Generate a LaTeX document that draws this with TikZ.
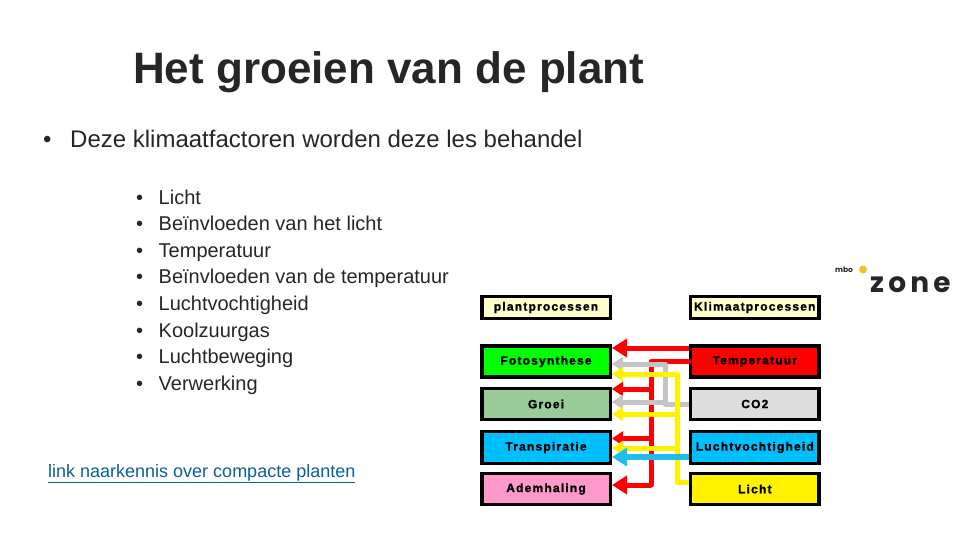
\documentclass[tikz,border=0pt]{standalone}
\usepackage{fontspec}
\setmainfont{Liberation Sans}
\newfontfamily\boxfont[LetterSpace=10,BoldFeatures={FakeBold=1.5,LetterSpace=10}]{Liberation Sans}
\newfontfamily\zonefont[LetterSpace=15]{Poppins}
\newfontfamily\mbofont{Poppins}
\usetikzlibrary{arrows.meta}
\definecolor{linkblue}{HTML}{0B5E9E}
\definecolor{ltyellow}{HTML}{FFFFCC}
\definecolor{grgreen}{HTML}{99CC99}
\definecolor{skyb}{HTML}{00BFFF}
\definecolor{pinkb}{HTML}{FF99CC}
\definecolor{greyb}{HTML}{DDDDDD}
\definecolor{arrgrey}{HTML}{C4C4C4}
\definecolor{arrblue}{HTML}{22BBEE}
\definecolor{txtcol}{HTML}{262626}
\definecolor{dotcol}{HTML}{F0C428}
\tikzset{
  x=1pt,y=-1pt,
  txt/.style={anchor=base west,inner sep=0pt,text=txtcol},
  head/.style={txt,font=\bfseries\fontsize{44}{48}\selectfont},
  lvl1/.style={txt,font=\fontsize{24}{28}\selectfont},
  lvl2/.style={txt,font=\fontsize{20}{24}\selectfont},
  bbox/.style={draw=black,line width=3.5pt,minimum width=128.5pt,inner sep=0pt,font=\boxfont\bfseries\fontsize{12}{13}\selectfont,text=black},
  big/.style={-{Triangle[length=15pt,width=18pt]}},
  small/.style={-{Triangle[length=11pt,width=14pt]}},
  conn/.style={line width=5pt},
}
\begin{document}
\begin{tikzpicture}
\useasboundingbox (0,0) rectangle (960,540);
\node[head] (title) at (133,84) {Het groeien van de plant};
\node[lvl1] (b0) at (43,147.5) {•};
\node[lvl1] (lead) at (70,147.5) {Deze klimaatfactoren worden deze les behandel};
\foreach \n/\y/\t in {1/204.5/Licht,2/230/Beïnvloeden van het licht,3/257/Temperatuur,4/283/Beïnvloeden van de temperatuur,5/310/Luchtvochtigheid,6/337/Koolzuurgas,7/363/Luchtbeweging,8/390/Verwerking}{
  \node[lvl2] (d\n) at (136,\y) {•};
  \node[lvl2] (i\n) at (158.5,\y) {\t};
}
\node[anchor=base west,inner sep=0pt,text=linkblue,font=\fontsize{18}{20}\selectfont] (link) at (48,477) {\underline{link naarkennis over compacte planten}};

\node[bbox,fill=ltyellow,minimum height=22pt,text width=124pt,align=center] (pp) at (546,307.5) {plantprocessen};
\node[bbox,fill=ltyellow,minimum height=22pt,text width=124pt,align=center] (kp) at (754.8,307.5) {Klimaatprocessen};
\node[bbox,fill=green,minimum height=31pt] (foto) at (546,361.5) {Fotosynthese};
\node[bbox,fill=grgreen,minimum height=31pt] (groei) at (546,404) {Groei};
\node[bbox,fill=skyb,minimum height=32pt] (trans) at (546,447.5) {Transpiratie};
\node[bbox,fill=pinkb,minimum height=31pt] (adem) at (546,489) {Ademhaling};
\node[bbox,fill=red,minimum height=31pt] (temp) at (754.8,361.5) {Temperatuur};
\node[bbox,fill=greyb,minimum height=31pt] (co2) at (754.8,404) {CO2};
\node[bbox,fill=skyb,minimum height=32pt] (lucht) at (754.8,447.5) {Luchtvochtigheid};
\node[bbox,fill=yellow,minimum height=31pt] (licht) at (754.8,489) {Licht};

\coordinate (rt) at (651,0);
\coordinate (gt) at (665,0);
\coordinate (yt) at (677,0);

\draw[conn,red,big] ([yshift=13.5pt]temp.west) -- ([yshift=13.5pt]foto.east);
\draw[conn,red,line cap=round,line join=round] (temp.west) -- (rt |- temp.west) -- (rt |- 0,485);
\draw[conn,red,small] (rt |- 0,389) -- ([yshift=15pt]groei.east);
\draw[conn,red,small] (rt |- 0,438.5) -- ([yshift=9pt]trans.east);
\draw[conn,red,big] (rt |- 0,485) -- ([yshift=4pt]adem.east);

\draw[conn,arrgrey,small,line join=round] (co2.west) -- (gt |- co2.west) -- (gt |- 0,364) -- ([yshift=-2.5pt]foto.east);
\draw[conn,arrgrey,small] (gt |- 0,402) -- ([yshift=2pt]groei.east);

\draw[conn,yellow,small,line join=round] ([yshift=7pt]licht.west) -- (yt |- 0,482) -- (yt |- 0,374) -- ([yshift=-12.5pt]foto.east);
\draw[conn,yellow,small] (yt |- 0,414) -- ([yshift=-10pt]groei.east);
\draw[conn,yellow,small] (yt |- 0,448) -- ([yshift=-.5pt]trans.east);

\draw[line width=6pt,arrblue,big] ([yshift=-9.5pt]lucht.west) -- ([yshift=-9.5pt]trans.east);

\node[anchor=base west,inner sep=0pt,text=txtcol,font=\mbofont\bfseries\fontsize{7.5}{8}\selectfont] (mbo) at (835,272) {mbo};
\node[circle,fill=dotcol,inner sep=0pt,minimum size=8pt] (dot) at (863,269.5) {};
\node[anchor=base west,inner sep=0pt,text=txtcol,font=\zonefont\bfseries\fontsize{28}{30}\selectfont] (zone) at (870,292.5) {zone};
\end{tikzpicture}
\end{document}
